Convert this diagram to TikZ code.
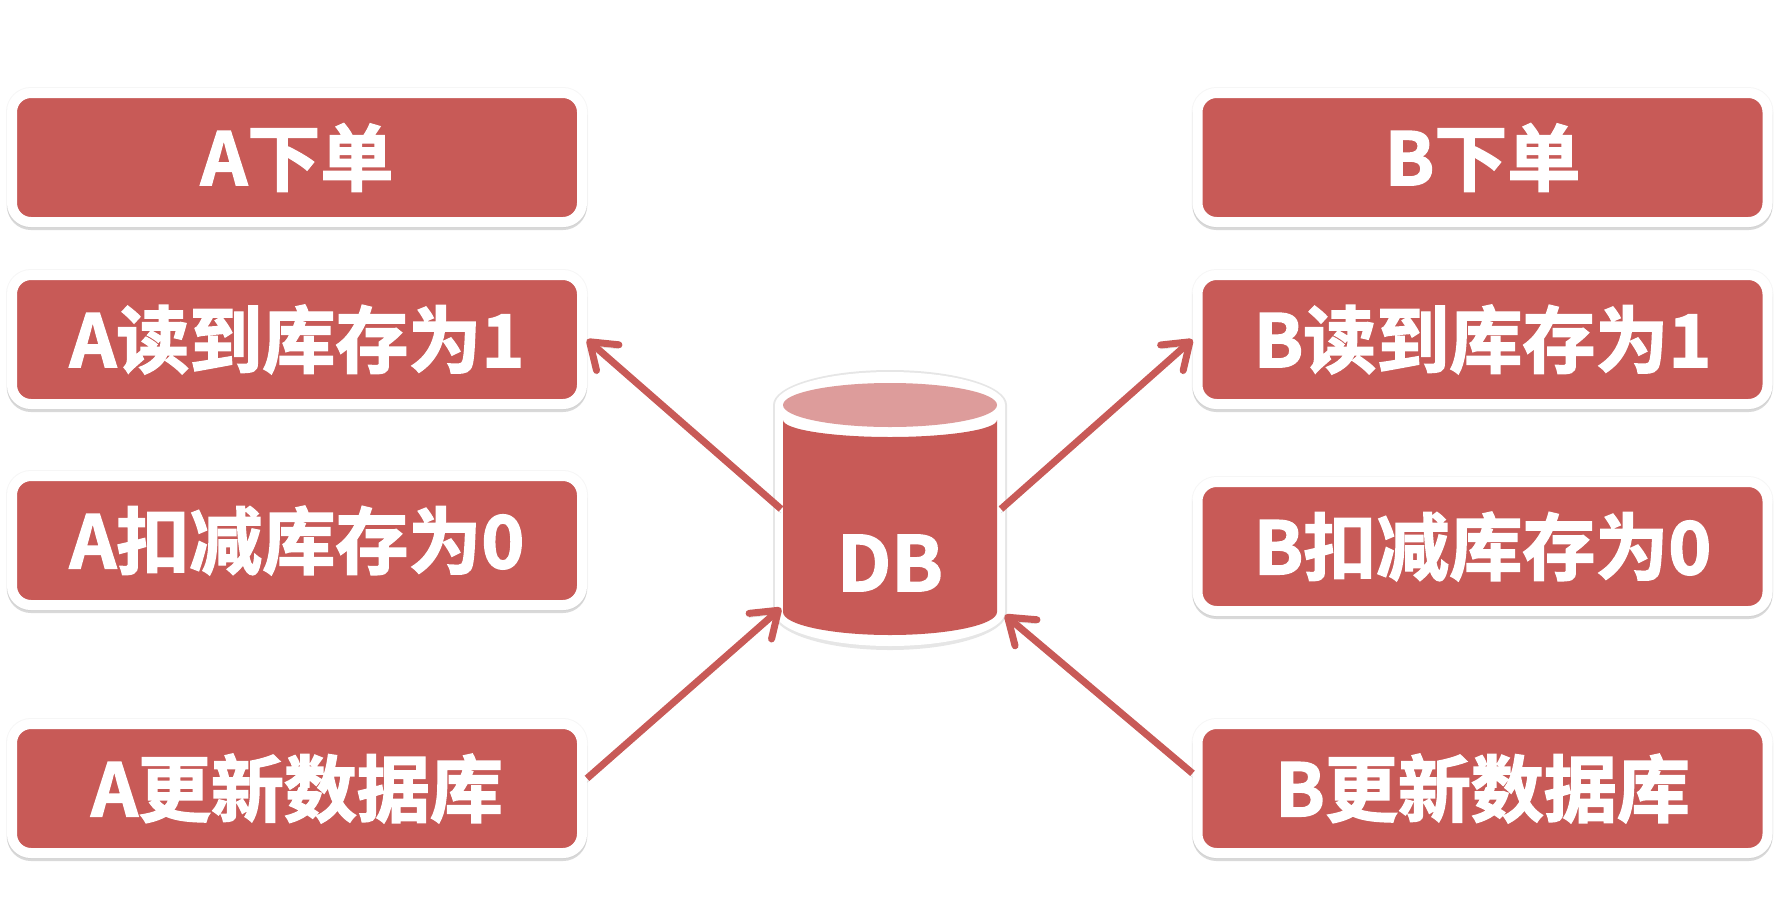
\documentclass[tikz,border=0pt]{standalone}
\usepackage{fontspec}
\usepackage{xcolor}
\setmainfont[FakeBold=2]{Noto Sans CJK SC Bold}
\usetikzlibrary{arrows.meta}
\definecolor{boxred}{HTML}{C85A57}
\definecolor{toppink}{HTML}{DD9C9B}
\tikzset{
    softshadow/.style = {fill = gray, opacity = .2},
    orderbox/.style = {draw = white, line width = 10pt, fill = boxred, rounded corners = 19pt,
        minimum width = 570pt, minimum height = 129pt, text = white, font = \fontsize{73}{73}\selectfont,
        inner sep = 0pt,
        preaction = {draw = gray, line width = 12pt, opacity = .07},
        preaction = {draw = gray, line width = 10pt, opacity = .3, transform canvas = {yshift = -3pt}}},
    stockline/.style = {draw = boxred, line width = 7pt,
        -{Straight Barb[round, length = 24pt, width = 34pt, line width = 7pt]},
        preaction = {draw = gray, opacity = .35, transform canvas = {yshift = -4pt}}}
}

\begin{document}
\begin{tikzpicture}[x = 1pt, y = -1pt]
        \useasboundingbox (0, 0) rectangle (1792, 906);

        \node[orderbox] (aorder) at (297, 157.5) {A下单};
        \node[orderbox] (aread) at (297, 339.5) {A读到库存为1};
        \node[orderbox] (acut) at (297, 540.5) {A扣减库存为0};
        \node[orderbox] (aupdate) at (297, 788.5) {A更新数据库};

        \node[orderbox] (border) at (1482.5, 157.5) {B下单};
        \node[orderbox] (bread) at (1482.5, 339.5) {B读到库存为1};
        \node[orderbox] (bcut) at (1482.5, 546.5) {B扣减库存为0};
        \node[orderbox] (bupdate) at (1482.5, 788.5) {B更新数据库};

        % cylinder
        \fill[softshadow] (773, 405) arc[x radius = 117, y radius = 35, start angle = 180, end angle = 360]
            -- (1007, 612) arc[x radius = 117, y radius = 38, start angle = 0, end angle = 180] -- cycle;
        \fill[white] (775, 405) arc[x radius = 115, y radius = 33, start angle = 180, end angle = 360]
            -- (1005, 612) arc[x radius = 115, y radius = 34, start angle = 0, end angle = 180] -- cycle;
        \fill[toppink] (890, 405) ellipse[x radius = 107, y radius = 22];
        \fill[boxred] (783, 420) arc[x radius = 107, y radius = 17, start angle = 180, end angle = 0]
            -- (997, 612) arc[x radius = 107, y radius = 23, start angle = 0, end angle = 180] -- cycle;
        \node[text = white, font = \fontsize{76}{76}\selectfont] (dblabel) at (890, 563) {DB};

        \coordinate (dbnw) at (781, 509);
        \coordinate (dbne) at (1001, 509);
        \coordinate (dbsw) at (781, 608);
        \coordinate (dbse) at (1005, 615);

        \draw[stockline] (dbnw) -- (aread.east);
        \draw[stockline] (dbne) -- (bread.west);
        \draw[stockline] (aupdate.2.5) -- (dbsw);
        \draw[stockline] (bupdate.177.5) -- (dbse);
    \end{tikzpicture}
\end{document}
